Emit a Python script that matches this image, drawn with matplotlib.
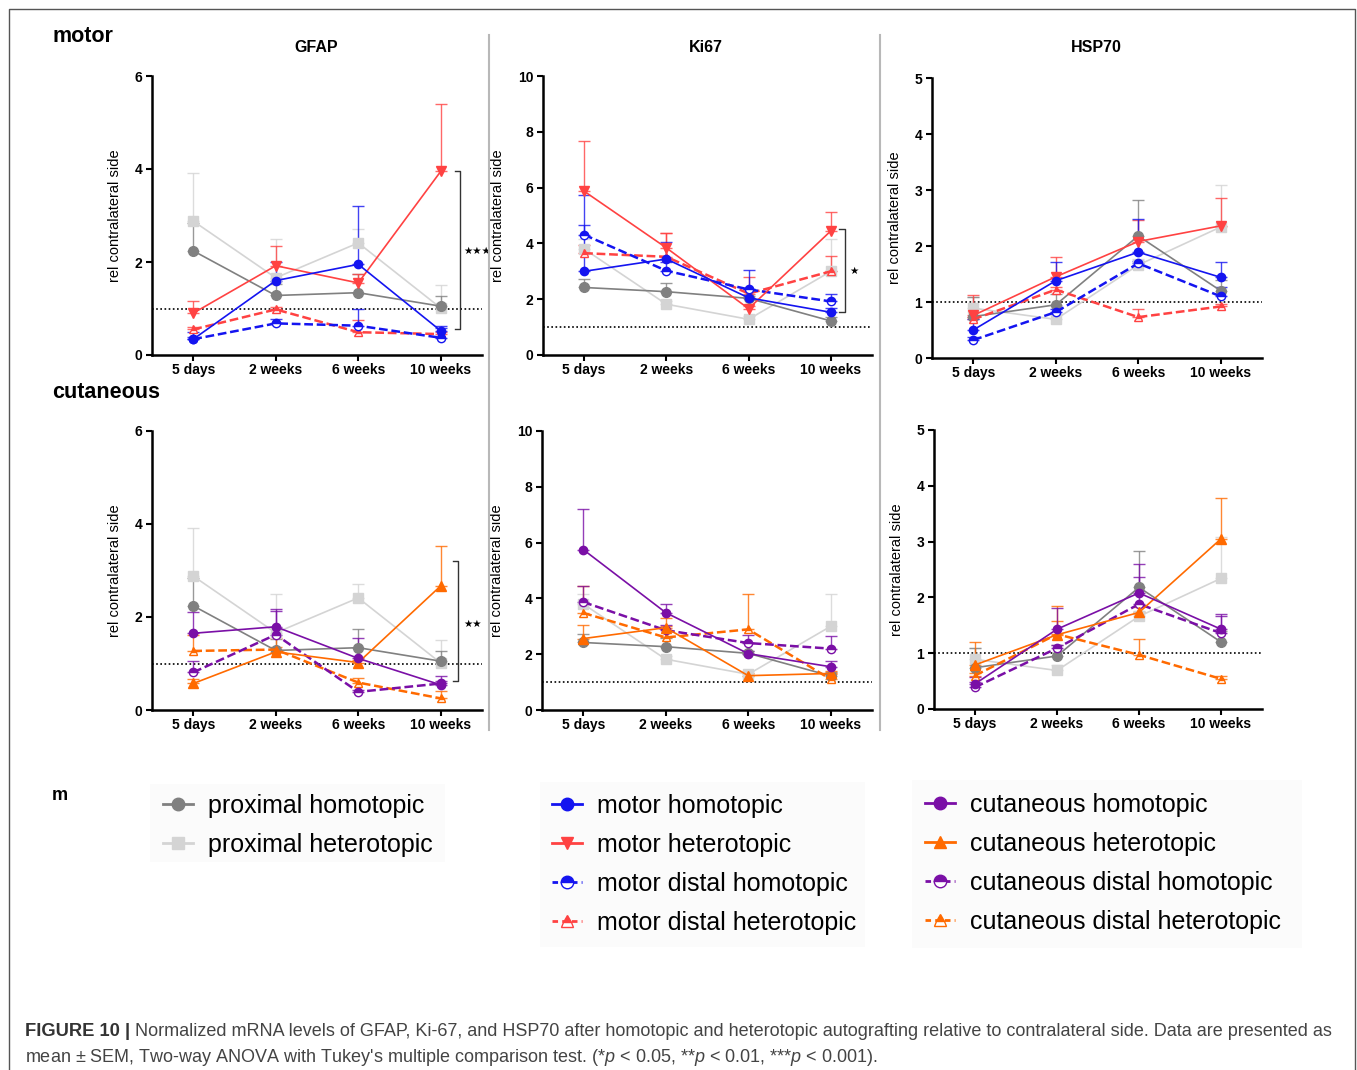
import matplotlib
matplotlib.use("Agg")
import matplotlib.pyplot as plt
from matplotlib.lines import Line2D
from matplotlib.patches import Rectangle
import numpy as np

plt.rcParams['font.family'] = ['Liberation Sans', 'DejaVu Sans']
plt.rcParams['mathtext.fontset'] = 'custom'
plt.rcParams['mathtext.it'] = 'Liberation Sans:italic'
plt.rcParams['mathtext.rm'] = 'Liberation Sans'

W, H = 1357, 1070

# time points
times = ['5 days', '2 weeks', '6 weeks', '10 weeks']

# ---- GFAP (mean, SEM) ----
gfap_prox_homo = [2.24, 1.28, 1.34, 1.05]
gfap_prox_homo_sem = [0.60, 0.25, 0.40, 0.22]
gfap_prox_hetero = [2.88, 1.66, 2.41, 1.01]
gfap_prox_hetero_sem = [1.04, 0.83, 0.31, 0.50]
gfap_motor_homo = [0.34, 1.60, 1.95, 0.52]
gfap_motor_homo_sem = [0.16, 0.40, 1.25, 0.10]
gfap_motor_hetero = [0.90, 1.92, 1.55, 3.95]
gfap_motor_hetero_sem = [0.26, 0.42, 0.20, 1.45]
gfap_motor_dhomo = [0.34, 0.68, 0.63, 0.37]
gfap_motor_dhomo_sem = [0.05, 0.09, 0.35, 0.20]
gfap_motor_dhetero = [0.55, 0.98, 0.49, 0.45]
gfap_motor_dhetero_sem = [0.05, 0.05, 0.26, 0.05]
gfap_cut_homo = [1.65, 1.79, 1.11, 0.54]
gfap_cut_homo_sem = [0.45, 0.38, 0.43, 0.20]
gfap_cut_hetero = [0.57, 1.25, 1.02, 2.67]
gfap_cut_hetero_sem = [0.10, 0.10, 0.05, 0.85]
gfap_cut_dhomo = [0.81, 1.62, 0.39, 0.57]
gfap_cut_dhomo_sem = [0.24, 0.51, 0.05, 0.05]
gfap_cut_dhetero = [1.27, 1.30, 0.59, 0.25]
gfap_cut_dhetero_sem = [0.34, 0.25, 0.09, 0.15]

# ---- Ki67 ----
ki_prox_homo = [2.42, 2.27, 2.03, 1.22]
ki_prox_homo_sem = [0.30, 0.32, 0.10, 0.15]
ki_prox_hetero = [3.80, 1.82, 1.28, 3.00]
ki_prox_hetero_sem = [0.35, 0.10, 0.10, 1.15]
ki_motor_homo = [3.00, 3.44, 2.05, 1.53]
ki_motor_homo_sem = [2.75, 0.60, 0.30, 0.17]
ki_motor_hetero = [5.87, 3.84, 1.66, 4.45]
ki_motor_hetero_sem = [1.80, 0.54, 0.10, 0.68]
ki_motor_dhomo = [4.31, 3.02, 2.35, 1.92]
ki_motor_dhomo_sem = [0.34, 0.30, 0.70, 0.28]
ki_motor_dhetero = [3.65, 3.52, 2.20, 3.00]
ki_motor_dhetero_sem = [0.30, 0.84, 0.58, 0.56]
ki_cut_homo = [5.75, 3.49, 2.02, 1.55]
ki_cut_homo_sem = [1.45, 0.30, 0.10, 0.21]
ki_cut_hetero = [2.56, 2.95, 1.23, 1.31]
ki_cut_hetero_sem = [0.50, 0.36, 0.10, 0.10]
ki_cut_dhomo = [3.87, 2.86, 2.40, 2.20]
ki_cut_dhomo_sem = [0.56, 0.20, 0.28, 0.44]
ki_cut_dhetero = [3.48, 2.60, 2.89, 1.10]
ki_cut_dhetero_sem = [0.98, 0.40, 1.28, 0.20]

# ---- HSP70 ----
hsp_prox_homo = [0.74, 0.95, 2.18, 1.20]
hsp_prox_homo_sem = [0.35, 0.20, 0.65, 0.19]
hsp_prox_hetero = [0.89, 0.69, 1.66, 2.34]
hsp_prox_hetero_sem = [0.20, 0.10, 0.10, 0.75]
hsp_motor_homo = [0.50, 1.38, 1.89, 1.44]
hsp_motor_homo_sem = [0.20, 0.34, 0.59, 0.28]
hsp_motor_hetero = [0.76, 1.45, 2.08, 2.36]
hsp_motor_hetero_sem = [0.36, 0.36, 0.38, 0.49]
hsp_motor_dhomo = [0.32, 0.82, 1.69, 1.10]
hsp_motor_dhomo_sem = [0.05, 0.05, 0.05, 0.17]
hsp_motor_dhetero = [0.69, 1.22, 0.73, 0.92]
hsp_motor_dhetero_sem = [0.05, 0.05, 0.15, 0.05]
hsp_cut_homo = [0.45, 1.43, 2.08, 1.43]
hsp_cut_homo_sem = [0.13, 0.38, 0.52, 0.28]
hsp_cut_hetero = [0.79, 1.33, 1.73, 3.05]
hsp_cut_hetero_sem = [0.41, 0.51, 0.10, 0.74]
hsp_cut_dhomo = [0.39, 1.09, 1.88, 1.36]
hsp_cut_dhomo_sem = [0.10, 0.05, 0.49, 0.30]
hsp_cut_dhetero = [0.60, 1.34, 0.97, 0.54]
hsp_cut_dhetero_sem = [0.05, 0.23, 0.29, 0.05]

# line styles for each group
GREY_D = '#808080'
GREY_L = '#d4d4d4'
BLUE = '#1414f0'
RED = '#ff4242'
PURPLE = '#7a0fa6'
ORANGE = '#ff6a00'

STYLE = {
    'proximal homotopic': dict(color=GREY_D, ls='-', marker='o', fill='full', lw=1.2, ms=7),
    'proximal heterotopic': dict(color=GREY_L, ls='-', marker='s', fill='full', lw=1.2, ms=7),
    'motor homotopic': dict(color=BLUE, ls='-', marker='o', fill='full', lw=1.2, ms=6),
    'motor heterotopic': dict(color=RED, ls='-', marker='v', fill='full', lw=1.2, ms=7),
    'motor distal homotopic': dict(color=BLUE, ls='--', marker='o', fill='top', lw=1.8, ms=6),
    'motor distal heterotopic': dict(color=RED, ls='--', marker='^', fill='top', lw=1.8, ms=6),
    'cutaneous homotopic': dict(color=PURPLE, ls='-', marker='o', fill='full', lw=1.2, ms=6),
    'cutaneous heterotopic': dict(color=ORANGE, ls='-', marker='^', fill='full', lw=1.2, ms=7),
    'cutaneous distal homotopic': dict(color=PURPLE, ls='--', marker='o', fill='top', lw=1.8, ms=6),
    'cutaneous distal heterotopic': dict(color=ORANGE, ls='--', marker='^', fill='top', lw=1.8, ms=6),
}


def draw_series(ax, name, mean, sem):
    st = STYLE[name]
    x = np.arange(len(mean))
    mean = np.array(mean)
    sem = np.array(sem)
    ax.errorbar(x, mean, yerr=[np.zeros_like(sem), sem], fmt='none',
                ecolor=st['color'], elinewidth=1.0, capsize=4, capthick=1.0,
                alpha=0.8, zorder=2)
    ls = (0, (3.5, 1.5)) if st['ls'] == '--' else '-'
    ax.plot(x, mean, color=st['color'], linestyle=ls, lw=st['lw'],
            marker=st['marker'], ms=st['ms'], fillstyle=st['fill'],
            markerfacecoloralt='white', markeredgecolor=st['color'],
            markeredgewidth=1.0, zorder=3)


def style_axes(ax, ymax, yticks):
    ax.set_xlim(-0.5, 3.5)
    ax.set_ylim(0, ymax)
    ax.set_yticks(yticks)
    ax.set_xticks(range(len(times)))
    ax.set_xticklabels(times)
    for s in ['top', 'right']:
        ax.spines[s].set_visible(False)
    for s in ['left', 'bottom']:
        ax.spines[s].set_linewidth(1.8)
    ax.tick_params(axis='both', labelsize=10, width=1.5, length=4, pad=3)
    ax.tick_params(axis='x', pad=1.5)
    for lab in ax.get_xticklabels() + ax.get_yticklabels():
        lab.set_fontweight('bold')
    ax.set_ylabel('rel contralateral side', fontsize=10.5, labelpad=9)
    ax.axhline(1, color='black', ls=(0, (1, 1.5)), lw=1.2, zorder=1)
    ax.patch.set_alpha(0)


def add_axes(l, r, t, b):
    return fig.add_axes([l / W, 1 - b / H, (r - l) / W, (b - t) / H])


def bracket(ax, xv, x0, y0, y1, star_x, star_y, stars):
    ax.plot([x0, xv, xv, x0], [y0, y0, y1, y1], color='#333333', lw=1.0,
            clip_on=False, zorder=4)
    ax.text(star_x, star_y, stars, fontsize=7.5, ha='center', va='center',
            color='black', family='DejaVu Sans', clip_on=False)


fig = plt.figure(figsize=(W / 100, H / 100), dpi=100)

# outer frame and separators
fig.add_artist(Line2D([9 / W, 9 / W, 1355 / W, 1355 / W], [0, 1 - 9 / H, 1 - 9 / H, 0],
                      color='#555555', lw=1.0))
for xs in [489, 880]:
    fig.add_artist(Line2D([xs / W, xs / W], [1 - 35 / H, 1 - 730 / H], color='#b8b8b8', lw=1.5))

# ---- motor row ----
ax1 = add_axes(152, 482, 76, 355)
draw_series(ax1, 'proximal heterotopic', gfap_prox_hetero, gfap_prox_hetero_sem)
draw_series(ax1, 'proximal homotopic', gfap_prox_homo, gfap_prox_homo_sem)
draw_series(ax1, 'motor distal heterotopic', gfap_motor_dhetero, gfap_motor_dhetero_sem)
draw_series(ax1, 'motor distal homotopic', gfap_motor_dhomo, gfap_motor_dhomo_sem)
draw_series(ax1, 'motor heterotopic', gfap_motor_hetero, gfap_motor_hetero_sem)
draw_series(ax1, 'motor homotopic', gfap_motor_homo, gfap_motor_homo_sem)
style_axes(ax1, 6, [0, 2, 4, 6])
bracket(ax1, 3.23, 3.17, 3.95, 0.55, 3.44, 2.24, '★★★')

ax2 = add_axes(543, 872, 76, 355)
draw_series(ax2, 'proximal heterotopic', ki_prox_hetero, ki_prox_hetero_sem)
draw_series(ax2, 'proximal homotopic', ki_prox_homo, ki_prox_homo_sem)
draw_series(ax2, 'motor distal heterotopic', ki_motor_dhetero, ki_motor_dhetero_sem)
draw_series(ax2, 'motor distal homotopic', ki_motor_dhomo, ki_motor_dhomo_sem)
draw_series(ax2, 'motor heterotopic', ki_motor_hetero, ki_motor_hetero_sem)
draw_series(ax2, 'motor homotopic', ki_motor_homo, ki_motor_homo_sem)
style_axes(ax2, 10, [0, 2, 4, 6, 8, 10])
bracket(ax2, 3.17, 3.1, 4.5, 1.55, 3.28, 3.0, '★')

ax3 = add_axes(932, 1262, 78, 358)
draw_series(ax3, 'proximal heterotopic', hsp_prox_hetero, hsp_prox_hetero_sem)
draw_series(ax3, 'proximal homotopic', hsp_prox_homo, hsp_prox_homo_sem)
draw_series(ax3, 'motor distal heterotopic', hsp_motor_dhetero, hsp_motor_dhetero_sem)
draw_series(ax3, 'motor distal homotopic', hsp_motor_dhomo, hsp_motor_dhomo_sem)
draw_series(ax3, 'motor heterotopic', hsp_motor_hetero, hsp_motor_hetero_sem)
draw_series(ax3, 'motor homotopic', hsp_motor_homo, hsp_motor_homo_sem)
style_axes(ax3, 5, [0, 1, 2, 3, 4, 5])

# ---- cutaneous row ----
ax4 = add_axes(152, 482, 431, 710)
draw_series(ax4, 'proximal heterotopic', gfap_prox_hetero, gfap_prox_hetero_sem)
draw_series(ax4, 'proximal homotopic', gfap_prox_homo, gfap_prox_homo_sem)
draw_series(ax4, 'cutaneous distal heterotopic', gfap_cut_dhetero, gfap_cut_dhetero_sem)
draw_series(ax4, 'cutaneous distal homotopic', gfap_cut_dhomo, gfap_cut_dhomo_sem)
draw_series(ax4, 'cutaneous heterotopic', gfap_cut_hetero, gfap_cut_hetero_sem)
draw_series(ax4, 'cutaneous homotopic', gfap_cut_homo, gfap_cut_homo_sem)
style_axes(ax4, 6, [0, 2, 4, 6])
bracket(ax4, 3.21, 3.15, 3.2, 0.63, 3.38, 1.86, '★★')

ax5 = add_axes(542, 872, 431, 710)
draw_series(ax5, 'proximal heterotopic', ki_prox_hetero, ki_prox_hetero_sem)
draw_series(ax5, 'proximal homotopic', ki_prox_homo, ki_prox_homo_sem)
draw_series(ax5, 'cutaneous distal heterotopic', ki_cut_dhetero, ki_cut_dhetero_sem)
draw_series(ax5, 'cutaneous distal homotopic', ki_cut_dhomo, ki_cut_dhomo_sem)
draw_series(ax5, 'cutaneous heterotopic', ki_cut_hetero, ki_cut_hetero_sem)
draw_series(ax5, 'cutaneous homotopic', ki_cut_homo, ki_cut_homo_sem)
style_axes(ax5, 10, [0, 2, 4, 6, 8, 10])

ax6 = add_axes(934, 1262, 430, 709)
draw_series(ax6, 'proximal heterotopic', hsp_prox_hetero, hsp_prox_hetero_sem)
draw_series(ax6, 'proximal homotopic', hsp_prox_homo, hsp_prox_homo_sem)
draw_series(ax6, 'cutaneous distal heterotopic', hsp_cut_dhetero, hsp_cut_dhetero_sem)
draw_series(ax6, 'cutaneous distal homotopic', hsp_cut_dhomo, hsp_cut_dhomo_sem)
draw_series(ax6, 'cutaneous heterotopic', hsp_cut_hetero, hsp_cut_hetero_sem)
draw_series(ax6, 'cutaneous homotopic', hsp_cut_homo, hsp_cut_homo_sem)
style_axes(ax6, 5, [0, 1, 2, 3, 4, 5])

# titles and row labels
for title, xc in [('GFAP', 316), ('Ki67', 706), ('HSP70', 1096)]:
    fig.text(xc / W, 1 - 47 / H, title, ha='center', va='center', fontsize=11.5, fontweight='bold')
fig.text(52 / W, 1 - 36 / H, 'motor', ha='left', va='center', fontsize=15.5, fontweight='bold')
fig.text(52 / W, 1 - 392 / H, 'cutaneous', ha='left', va='center', fontsize=15.5, fontweight='bold')
fig.text(52 / W, 1 - 795 / H, 'm', ha='left', va='center', fontsize=13, fontweight='bold')

# legends
legend_cols = [
    (['proximal homotopic', 'proximal heterotopic'], 163, 794, (150, 784, 295, 78)),
    (['motor homotopic', 'motor heterotopic', 'motor distal homotopic',
      'motor distal heterotopic'], 552, 794, (540, 782, 325, 165)),
    (['cutaneous homotopic', 'cutaneous heterotopic', 'cutaneous distal homotopic',
      'cutaneous distal heterotopic'], 925, 793, (912, 780, 390, 168)),
]
for names, lx, ly, box in legend_cols:
    bx, by, bw, bh = box
    fig.add_artist(Rectangle((bx / W, 1 - (by + bh) / H), bw / W, bh / H,
                             transform=fig.transFigure, facecolor='#fbfbfb',
                             edgecolor='none', zorder=0))
    handles = []
    for n in names:
        st = STYLE[n]
        ls = (0, (2, 1.5)) if st['ls'] == '--' else '-'
        handles.append(Line2D([], [], color=st['color'], linestyle=ls, lw=2.0,
                              marker=st['marker'], ms=9, fillstyle=st['fill'],
                              markerfacecoloralt='white', markeredgecolor=st['color']))
    fig.legend(handles, names, loc='upper left', bbox_to_anchor=(lx / W, 1 - ly / H),
               frameon=False, fontsize=18, handlelength=1.2, handletextpad=0.6,
               labelspacing=0.6, borderpad=0, borderaxespad=0)

# caption
fig.text(25 / W, 1 - 1032 / H, 'FIGURE 10 |', ha='left', va='center',
         fontsize=13.2, fontweight='bold', color='#333333')
fig.text(135 / W, 1 - 1032 / H,
         'Normalized mRNA levels of GFAP, Ki-67, and HSP70 after homotopic and heterotopic '
         'autografting relative to contralateral side. Data are presented as',
         ha='left', va='center', fontsize=13, color='#444444')
fig.text(25 / W, 1 - 1057 / H,
         "mean \u00b1 SEM, Two-way ANOVA with Tukey's multiple comparison test. "
         "(*$p$ < 0.05, **$p$ < 0.01, ***$p$ < 0.001).",
         ha='left', va='center', fontsize=13, color='#444444')

fig.savefig('out.png', dpi=100)
